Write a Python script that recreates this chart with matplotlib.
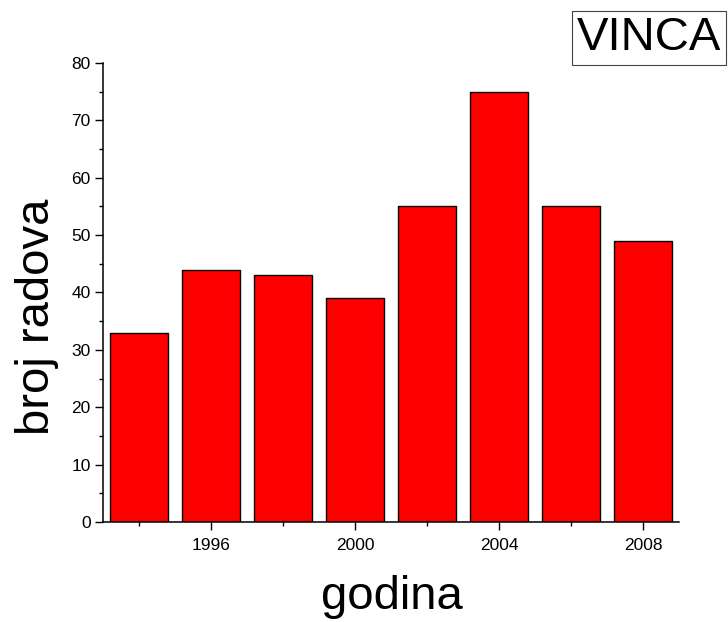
"""
Number of papers per year (bar chart)
"""

import matplotlib
matplotlib.use('Agg')
import matplotlib.pyplot as plt
from matplotlib.ticker import MultipleLocator

plt.rcParams['font.family'] = ['Liberation Sans', 'DejaVu Sans']

years = [1994, 1996, 1998, 2000, 2002, 2004, 2006, 2008]
papers = [33, 44, 43, 39, 55, 75, 55, 49]
major_years = [1996, 2000, 2004, 2008]
minor_years = [1994, 1998, 2002, 2006]


def main():
    fig = plt.figure(figsize=(7.28, 6.22), dpi=100)
    ax = fig.add_axes([0.1415, 0.1608, 0.7912, 0.7379])

    ax.bar(years, papers, width=1.6, color='#ff0000', edgecolor='black',
           linewidth=1.0)

    ax.set_xlim(1993, 2009)
    ax.set_ylim(0, 80)

    ax.set_xticks(major_years)
    ax.set_xticks(minor_years, minor=True)
    ax.yaxis.set_major_locator(MultipleLocator(10))
    ax.yaxis.set_minor_locator(MultipleLocator(5))

    for side in ['top', 'right']:
        ax.spines[side].set_visible(False)
    for side in ['left', 'bottom']:
        ax.spines[side].set_linewidth(1.1)

    ax.tick_params(which='major', direction='out', length=5.8, width=1.0,
                   labelsize=12.5, pad=3)
    ax.tick_params(which='minor', direction='out', length=2.8, width=1.0)
    ax.tick_params(axis='x', which='major', pad=6)

    fig.text(37 / 728, 1 - 317 / 622, 'broj radova', rotation=90,
             ha='center', va='center', fontsize=34)
    fig.text(392 / 728, 1 - 597 / 622, 'godina',
             ha='center', va='center', fontsize=34)

    fig.text(649 / 728, 1 - 38 / 622, 'VINCA', ha='center', va='center',
             fontsize=34,
             bbox=dict(boxstyle='square,pad=0.1', facecolor='white',
                       edgecolor='#444444', linewidth=0.8))

    plt.savefig('out.png', dpi=100)
    plt.close()


if __name__ == '__main__':
    main()
